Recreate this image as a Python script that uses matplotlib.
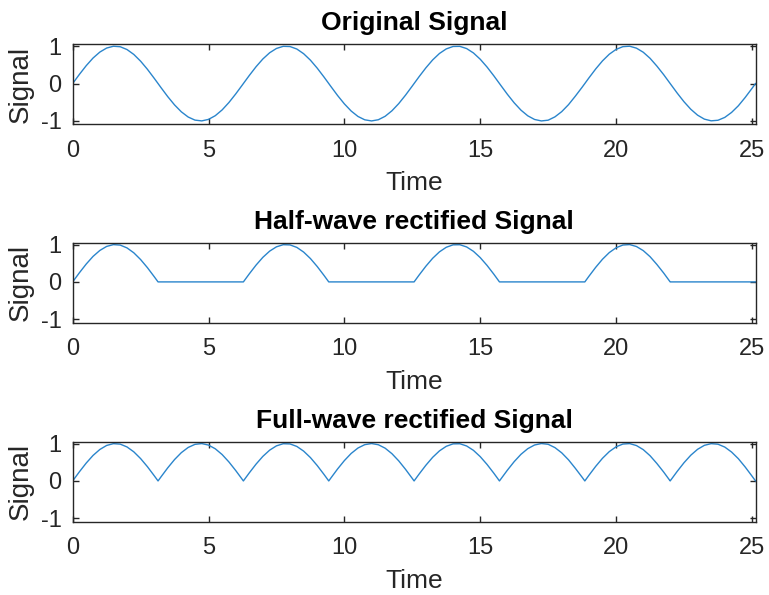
"""
Half-wave and full-wave rectification of a sampled sine signal,
shown as three stacked panels.
"""

import numpy as np
import matplotlib.pyplot as plt

plt.rcParams["font.family"] = ["Liberation Sans", "DejaVu Sans"]
plt.rcParams["axes.unicode_minus"] = False

# Signal samples every 0.25 time units
time = [i * 0.25 for i in range(101)]
signal = [
    0.000, 0.247, 0.479, 0.682, 0.841, 0.949, 0.997, 0.984, 0.909, 0.778,
    0.598, 0.382, 0.141, -0.108, -0.351, -0.572, -0.757, -0.895, -0.978, -0.999,
    -0.959, -0.859, -0.706, -0.508, -0.279, -0.033, 0.215, 0.450, 0.657, 0.823,
    0.938, 0.995, 0.989, 0.923, 0.798, 0.625, 0.412, 0.174, -0.075, -0.320,
    -0.544, -0.735, -0.880, -0.970, -1.000, -0.968, -0.876, -0.729, -0.537, -0.311,
    -0.066, 0.183, 0.420, 0.632, 0.804, 0.926, 0.991, 0.994, 0.935, 0.818,
    0.650, 0.442, 0.207, -0.042, -0.288, -0.516, -0.712, -0.863, -0.961, -1.000,
    -0.980, -0.891, -0.751, -0.564, -0.338, -0.099, 0.150, 0.390, 0.606, 0.784,
    0.913, 0.986, 0.998, 0.946, 0.837, 0.675, 0.468, 0.239, -0.009, -0.256,
    -0.487, -0.688, -0.846, -0.952, -0.997, -0.982, -0.906, -0.773, -0.595, -0.374,
    -0.132,
]

# Zero crossings of the signal, including the final sample
crossing_times = [3.142, 6.283, 9.425, 12.566, 15.708, 18.850, 21.991, 25.133]
crossing_values = [0.0] * len(crossing_times)

titles = ["Original Signal", "Half-wave rectified Signal", "Full-wave rectified Signal"]
x_ticks = [0, 5, 10, 15, 20, 25]
y_ticks = [-1, 0, 1]

LINE_COLOR = "#2a85cc"
AXIS_COLOR = "#262626"

t = np.array(time + crossing_times)
x = np.array(signal + crossing_values)
order = np.argsort(t)
t, x = t[order], x[order]

curves = [x, np.maximum(x, 0), np.abs(x)]

fig = plt.figure(figsize=(7.69, 5.95), dpi=100)
bottoms = [0.7911, 0.4577, 0.1232]

for bottom, title, y in zip(bottoms, titles, curves):
    ax = fig.add_axes([0.0945, bottom, 0.888, 0.1345])
    ax.plot(t, y, color=LINE_COLOR, linewidth=1.0)
    ax.set_xlim(0, crossing_times[-1])
    ax.set_ylim(-1.09, 1.05)
    ax.set_xticks(x_ticks)
    ax.set_yticks(y_ticks)
    ax.tick_params(direction="in", length=4, width=1, colors=AXIS_COLOR,
                   labelsize=17, top=True, right=True)
    ax.tick_params(axis="x", pad=11)
    ax.tick_params(axis="y", pad=8)
    for spine in ax.spines.values():
        spine.set_color(AXIS_COLOR)
        spine.set_linewidth(1)
    ax.set_title(title, fontsize=19, fontweight="bold", color="black", pad=10)
    ax.set_xlabel("Time", fontsize=19, color=AXIS_COLOR, labelpad=7)
    ax.set_ylabel("Signal", fontsize=20, color=AXIS_COLOR, labelpad=5)

fig.savefig("out.png", dpi=100)
